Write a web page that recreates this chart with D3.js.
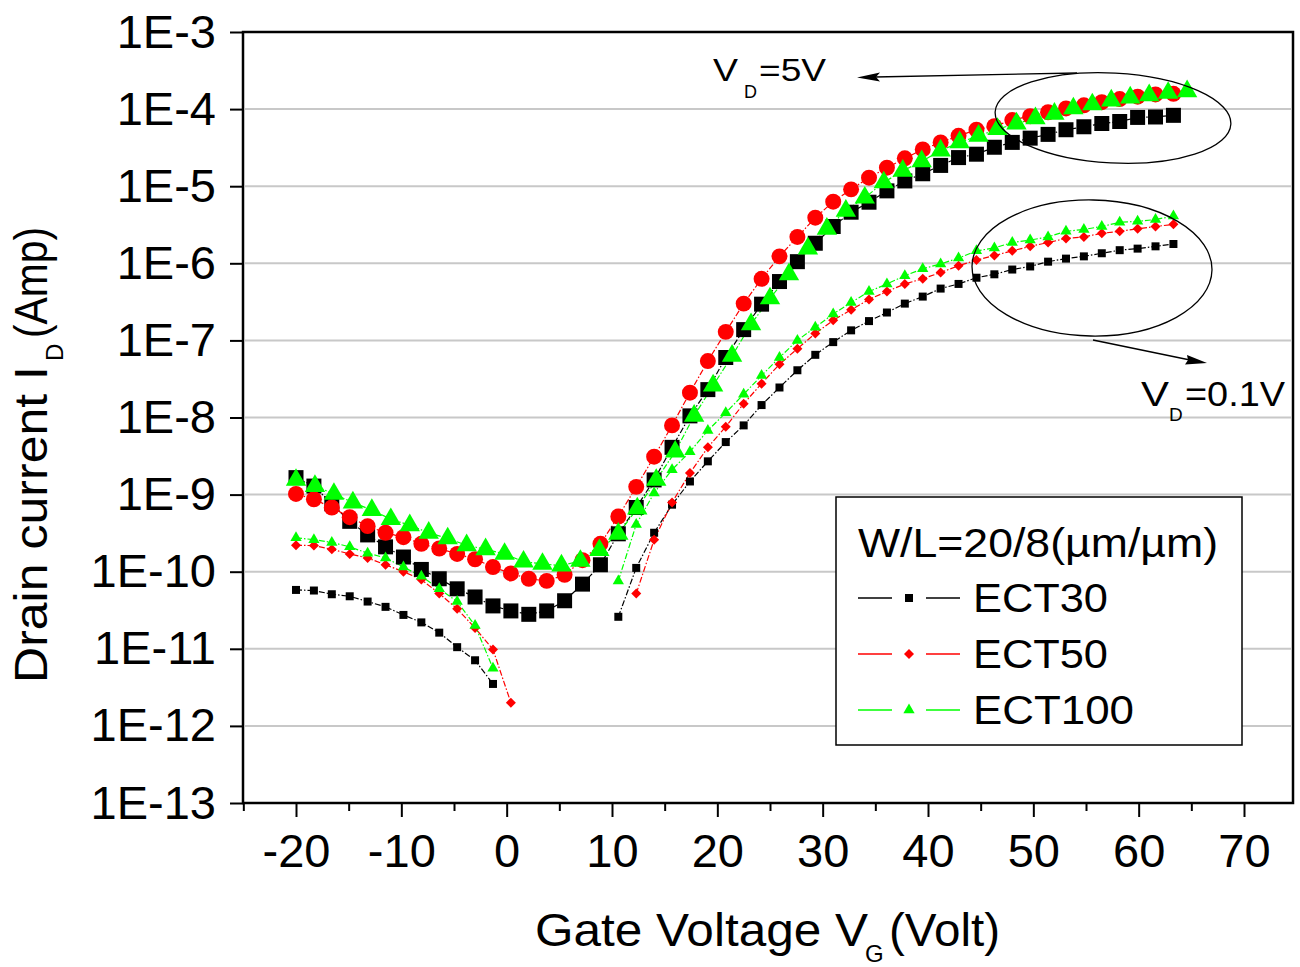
<!DOCTYPE html>
<html>
<head>
<meta charset="utf-8">
<script src="https://cdn.jsdelivr.net/npm/d3@7"></script>
<style>
  html, body { margin: 0; padding: 0; background: #fff; }
  svg { display: block; }
  text { font-family: "Liberation Sans", Arial, sans-serif; fill: #000; }
</style>
</head>
<body>
<svg id="chart" width="1300" height="967"></svg>
<script>
// ---------------- DATA ----------------
// gate voltages (V) of the sweeps
const vgA = [-20, -18.3, -16.6, -14.9, -13.2, -11.5, -9.8, -8.1, -6.4, -4.7, -3, -1.3, 0.4, 2.1, 3.8, 5.5, 7.2, 8.9, 10.6, 12.3,
  14, 15.7, 17.4, 19.1, 20.8, 22.5, 24.2, 25.9, 27.6, 29.3, 31, 32.7, 34.4, 36.1, 37.8, 39.5, 41.2, 42.9, 44.6, 46.3,
  48, 49.7, 51.4, 53.1, 54.8, 56.5, 58.2, 59.9, 61.6, 63.3];
const vgB = [-20, -18.2, -16.4, -14.6, -12.8, -11, -9.2, -7.4, -5.6, -3.8, -2, -0.2, 1.6, 3.4, 5.2, 7, 8.8, 10.6, 12.4, 14.2,
  16, 17.8, 19.6, 21.4, 23.2, 25, 26.8, 28.6, 30.4, 32.2, 34, 35.8, 37.6, 39.4, 41.2, 43, 44.8, 46.6, 48.4, 50.2,
  52, 53.8, 55.6, 57.4, 59.2, 61, 62.8, 64.6];

// drain current (A), VD = 5 V
const ect30_5V = [1.66e-9, 1.29e-9, 7.6e-10, 4.5e-10, 3.0e-10, 2.1e-10, 1.55e-10, 1.07e-10, 8.1e-11, 6.0e-11,
  4.7e-11, 3.6e-11, 3.1e-11, 2.8e-11, 3.1e-11, 4.2e-11, 6.9e-11, 1.23e-10, 3.1e-10, 6.8e-10,
  1.55e-9, 4.1e-9, 1.05e-8, 2.3e-8, 6.0e-8, 1.38e-7, 2.95e-7, 5.8e-7, 1.05e-6, 1.82e-6,
  3.0e-6, 4.6e-6, 6.2e-6, 8.7e-6, 1.17e-5, 1.45e-5, 1.86e-5, 2.35e-5, 2.6e-5, 3.2e-5,
  3.7e-5, 4.2e-5, 4.7e-5, 5.4e-5, 5.9e-5, 6.5e-5, 6.9e-5, 7.8e-5, 7.9e-5, 8.3e-5];
const ect50_5V = [1.02e-9, 8.7e-10, 6.8e-10, 5.1e-10, 3.9e-10, 3.2e-10, 2.8e-10, 2.3e-10, 2.0e-10, 1.7e-10,
  1.45e-10, 1.15e-10, 9.5e-11, 8.1e-11, 7.6e-11, 9.1e-11, 1.41e-10, 2.3e-10, 5.2e-10, 1.26e-9,
  3.1e-9, 7.9e-9, 2.1e-8, 5.4e-8, 1.29e-7, 3.0e-7, 6.3e-7, 1.23e-6, 2.2e-6, 3.9e-6,
  6.3e-6, 9.1e-6, 1.29e-5, 1.74e-5, 2.3e-5, 3.0e-5, 3.7e-5, 4.5e-5, 5.4e-5, 6.0e-5,
  7.2e-5, 8.1e-5, 9.1e-5, 1.02e-4, 1.12e-4, 1.23e-4, 1.35e-4, 1.45e-4, 1.55e-4, 1.58e-4];
const ect100_5V = [1.55e-9, 1.29e-9, 1.02e-9, 7.9e-10, 6.3e-10, 4.8e-10, 4.0e-10, 3.2e-10, 2.7e-10, 2.2e-10,
  1.95e-10, 1.7e-10, 1.35e-10, 1.26e-10, 1.2e-10, 1.38e-10, 1.9e-10, 3.1e-10, 6.6e-10, 1.55e-9,
  3.6e-9, 1.05e-8, 2.6e-8, 6.3e-8, 1.62e-7, 3.5e-7, 7.2e-7, 1.55e-6, 2.8e-6, 4.8e-6,
  7.1e-6, 1.12e-5, 1.58e-5, 2.1e-5, 2.9e-5, 3.7e-5, 4.5e-5, 5.5e-5, 6.5e-5, 7.6e-5,
  8.7e-5, 1.02e-4, 1.15e-4, 1.29e-4, 1.41e-4, 1.51e-4, 1.62e-4, 1.7e-4];

// drain current (A), VD = 0.1 V (null = no reading)
const ect30_01V = [5.8e-11, 5.7e-11, 5.1e-11, 4.8e-11, 4.1e-11, 3.5e-11, 2.75e-11, 2.2e-11, 1.62e-11, 1.05e-11,
  7.1e-12, 3.5e-12, null, null, null, null, null, null, 2.6e-11, 1.12e-10,
  3.2e-10, 7.4e-10, 1.48e-9, 2.7e-9, 4.8e-9, 7.9e-9, 1.45e-8, 2.45e-8, 4.1e-8, 6.5e-8,
  9.5e-8, 1.35e-7, 1.78e-7, 2.3e-7, 3.0e-7, 3.7e-7, 4.7e-7, 5.4e-7, 6.5e-7, 7.2e-7,
  8.3e-7, 9.1e-7, 1.05e-6, 1.15e-6, 1.23e-6, 1.35e-6, 1.48e-6, 1.55e-6, 1.66e-6, 1.78e-6];
const ect50_01V = [2.2e-10, 2.18e-10, 1.95e-10, 1.7e-10, 1.51e-10, 1.23e-10, 1.0e-10, 7.9e-11, 5.2e-11, 3.3e-11,
  1.86e-11, 9.8e-12, 2.0e-12, null, null, null, null, null, null, 5.2e-11,
  2.6e-10, 7.9e-10, 1.9e-9, 4.1e-9, 7.6e-9, 1.51e-8, 2.75e-8, 4.9e-8, 7.8e-8, 1.23e-7,
  1.82e-7, 2.5e-7, 3.4e-7, 4.3e-7, 5.4e-7, 6.3e-7, 7.6e-7, 9.3e-7, 1.1e-6, 1.26e-6,
  1.45e-6, 1.66e-6, 1.86e-6, 2.1e-6, 2.2e-6, 2.45e-6, 2.6e-6, 2.8e-6, 3.0e-6, 3.2e-6];
const ect100_01V = [2.75e-10, 2.6e-10, 2.4e-10, 2.1e-10, 1.74e-10, 1.51e-10, 1.15e-10, 8.7e-11, 6.0e-11, 4.1e-11,
  2.0e-11, 5.6e-12, null, null, null, null, null, null, 7.6e-11, 4.1e-10,
  1.05e-9, 2.1e-9, 3.6e-9, 6.8e-9, 1.15e-8, 2.0e-8, 3.5e-8, 6.0e-8, 1.0e-7, 1.48e-7,
  2.2e-7, 3.1e-7, 4.3e-7, 5.4e-7, 6.9e-7, 8.5e-7, 9.8e-7, 1.17e-6, 1.45e-6, 1.58e-6,
  1.86e-6, 2.0e-6, 2.2e-6, 2.6e-6, 2.75e-6, 3.0e-6, 3.4e-6, 3.5e-6, 3.7e-6, 4.1e-6];

const seriesNames = ["ECT30", "ECT50", "ECT100"];
const seriesColors = ["#000000", "#ff0000", "#00ff00"];
const xTickValues = [-20, -10, 0, 10, 20, 30, 40, 50, 60, 70];
const xMinorValues = [-25, -15, -5, 5, 15, 25, 35, 45, 55, 65];
const yTickValues = [1e-3, 1e-4, 1e-5, 1e-6, 1e-7, 1e-8, 1e-9, 1e-10, 1e-11, 1e-12, 1e-13];
const yTickLabels = ["1E-3", "1E-4", "1E-5", "1E-6", "1E-7", "1E-8", "1E-9", "1E-10", "1E-11", "1E-12", "1E-13"];
const legendTitle = "W/L=20/8(\u00b5m/\u00b5m)";

// ---------------- LAYOUT ----------------
const svg = d3.select("#chart");
const L = 243, R = 1293, T = 32, B = 803;
const x = d3.scaleLinear().domain([-20, 70]).range([296, 1244]);
const y = d3.scaleLog().domain([1e-13, 1e-3]).range([B, T]);

svg.append("rect").attr("width", 1300).attr("height", 967).attr("fill", "#fff");

// grid
svg.append("g").selectAll("line").data(yTickValues.slice(1, -1)).join("line")
  .attr("x1", L + 2).attr("x2", R - 2)
  .attr("y1", d => y(d)).attr("y2", d => y(d))
  .attr("stroke", "#c8c8c8").attr("stroke-width", 2);

// y axis
const yAxis = svg.append("g").attr("transform", `translate(${L},0)`)
  .call(d3.axisLeft(y).tickValues(yTickValues).tickSize(13).tickPadding(14)
    .tickFormat((d, i) => yTickLabels[i]));
yAxis.select(".domain").remove();
yAxis.selectAll(".tick line").attr("stroke", "#000").attr("stroke-width", 2);
yAxis.selectAll(".tick text").attr("font-size", 47).attr("font-family", "Liberation Sans, Arial, sans-serif");

// x axis
const xAxis = svg.append("g").attr("transform", `translate(0,${B})`)
  .call(d3.axisBottom(x).tickValues(xTickValues).tickSize(14).tickPadding(17).tickFormat(d => String(d)));
xAxis.select(".domain").remove();
xAxis.selectAll(".tick line").attr("stroke", "#000").attr("stroke-width", 2);
xAxis.selectAll(".tick text").attr("font-size", 47).attr("font-family", "Liberation Sans, Arial, sans-serif");
const xMinor = svg.append("g").attr("transform", `translate(0,${B})`)
  .call(d3.axisBottom(x).tickValues(xMinorValues).tickSize(8).tickFormat(""));
xMinor.select(".domain").remove();
xMinor.selectAll(".tick line").attr("stroke", "#000").attr("stroke-width", 2);

// frame
svg.append("rect").attr("x", L).attr("y", T).attr("width", R - L).attr("height", B - T)
  .attr("fill", "none").attr("stroke", "#000").attr("stroke-width", 2.5);

// ---------------- SERIES ----------------
const plot = svg.append("g");
const sets = [
  { xs: vgA, ys: ect30_5V, c: 0, big: true },
  { xs: vgA, ys: ect30_01V, c: 0, big: false },
  { xs: vgA, ys: ect50_5V, c: 1, big: true },
  { xs: vgA, ys: ect50_01V, c: 1, big: false },
  { xs: vgB, ys: ect100_5V, c: 2, big: true },
  { xs: vgA, ys: ect100_01V, c: 2, big: false }
];
const line = d3.line().defined(d => d[1] != null).x(d => x(d[0])).y(d => y(d[1]));
sets.forEach(s => {
  const pts = s.xs.map((v, i) => [v, s.ys[i]]);
  plot.append("path").attr("d", line(pts)).attr("fill", "none")
    .attr("stroke", seriesColors[s.c]).attr("stroke-width", 1.2)
    .attr("stroke-dasharray", "6,2,1.5,2");
});
const bigSym = [d3.symbol(d3.symbolSquare, 225), d3.symbol(d3.symbolCircle, 200), d3.symbol(d3.symbolTriangle, 180)];
const smallSym = [d3.symbol(d3.symbolSquare, 64), d3.symbol(d3.symbolSquare, 50), d3.symbol(d3.symbolTriangle, 55)];
[0, 1, 2].forEach(c => {
  sets.filter(s => s.c === c).forEach(s => {
    const pts = s.xs.map((v, i) => [v, s.ys[i]]).filter(d => d[1] != null);
    const sym = s.big ? bigSym[c] : smallSym[c];
    plot.append("g").selectAll("path").data(pts).join("path")
      .attr("d", sym())
      .attr("transform", d => `translate(${x(d[0])},${y(d[1])})` + (!s.big && c === 1 ? " rotate(45)" : ""))
      .attr("fill", seriesColors[c]);
  });
});

// ---------------- ANNOTATIONS ----------------
const ann = svg.append("g").attr("fill", "none").attr("stroke", "#000").attr("stroke-width", 1.3);
ann.append("ellipse").attr("cx", 1113).attr("cy", 118).attr("rx", 118).attr("ry", 45)
  .attr("transform", "rotate(3,1113,118)");
ann.append("ellipse").attr("cx", 1092).attr("cy", 268).attr("rx", 120).attr("ry", 68)
  .attr("transform", "rotate(1,1092,268)");
ann.append("line").attr("x1", 1077).attr("y1", 73).attr("x2", 875).attr("y2", 77);
ann.append("line").attr("x1", 1093).attr("y1", 340).attr("x2", 1190).attr("y2", 360);
svg.append("path").attr("d", "M857,77.5 L880,72.5 L876,77 L880,81.5 Z").attr("fill", "#000");
svg.append("path").attr("d", "M1207,363 L1185,364.5 L1188,360 L1187,355 Z").attr("fill", "#000");

// text with a subscript, each part laid out at measured spans
function subText(g, base, parts) {
  // parts: [main, x0, len, size], [sub, x, size, dy], [rest, x, len, size]
  const [m, s, r] = parts;
  g.append("text").attr("x", m[1]).attr("y", base).attr("font-size", m[3])
    .attr("textLength", m[2]).attr("lengthAdjust", "spacingAndGlyphs").text(m[0]);
  g.append("text").attr("x", s[1]).attr("y", base + s[3]).attr("font-size", s[2]).text(s[0]);
  g.append("text").attr("x", r[1]).attr("y", base).attr("font-size", r[3])
    .attr("textLength", r[2]).attr("lengthAdjust", "spacingAndGlyphs").text(r[0]);
}
subText(svg, 81, [["V", 713, 25, 32], ["D", 744, 18, 17], ["=5V", 759, 67, 32]]);
subText(svg, 406, [["V", 1141, 28, 35], ["D", 1169, 19, 15], ["=0.1V", 1185, 100, 35]]);

// axis titles
subText(svg, 946, [["Gate Voltage V", 535, 333, 46], ["G", 865, 24, 16], ["(Volt)", 889, 111, 46]]);
const yt = svg.append("g").attr("transform", "translate(47,683) rotate(-90)");
subText(yt, 0, [["Drain current I", 0, 317, 46], ["D", 322, 24, 16], ["(Amp)", 345, 111, 46]]);

// ---------------- LEGEND ----------------
const lg = svg.append("g");
lg.append("rect").attr("x", 836).attr("y", 497).attr("width", 406).attr("height", 248)
  .attr("fill", "#fff").attr("stroke", "#000").attr("stroke-width", 1.5);
lg.append("text").attr("x", 858).attr("y", 557).attr("font-size", 40)
  .attr("textLength", 360).attr("lengthAdjust", "spacingAndGlyphs").text(legendTitle);
const rowY = [598, 654, 710];
const rowLen = [135, 135, 161];
seriesNames.forEach((n, i) => {
  const r = lg.append("g");
  r.append("line").attr("x1", 858).attr("x2", 892).attr("y1", rowY[i]).attr("y2", rowY[i])
    .attr("stroke", seriesColors[i]).attr("stroke-width", 1.3);
  r.append("line").attr("x1", 926).attr("x2", 960).attr("y1", rowY[i]).attr("y2", rowY[i])
    .attr("stroke", seriesColors[i]).attr("stroke-width", 1.3);
  r.append("path").attr("d", smallSym[i]())
    .attr("transform", `translate(909,${rowY[i]})` + (i === 1 ? " rotate(45)" : ""))
    .attr("fill", seriesColors[i]);
  r.append("text").attr("x", 973).attr("y", rowY[i] + 14).attr("font-size", 40)
    .attr("textLength", rowLen[i]).attr("lengthAdjust", "spacingAndGlyphs").text(n);
});
</script>
</body>
</html>
